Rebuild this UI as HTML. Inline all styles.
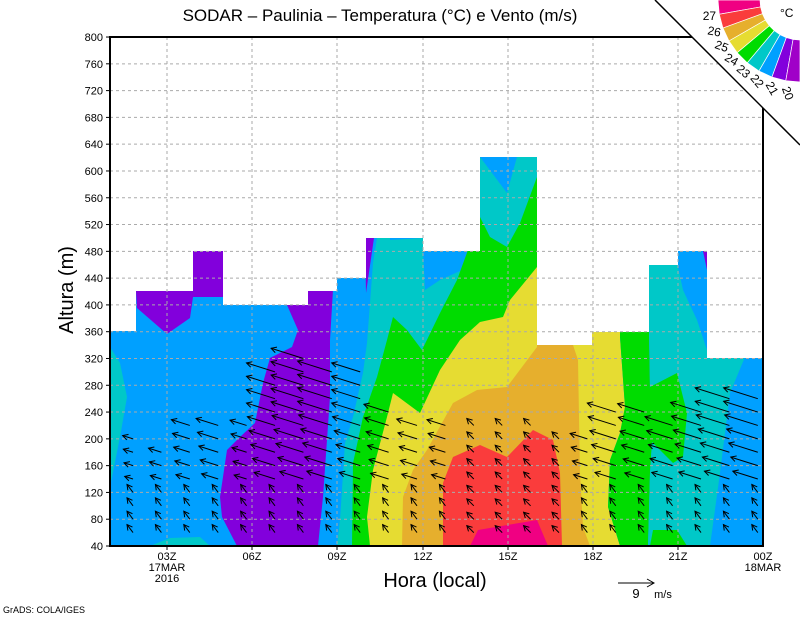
<!DOCTYPE html>
<html><head><meta charset="utf-8"><style>
body{margin:0;background:#fff;}
svg{display:block;font-family:"Liberation Sans",sans-serif;}
</style></head><body>
<svg id="s" width="800" height="618" viewBox="0 0 800 618" xmlns="http://www.w3.org/2000/svg">
<defs>
<clipPath id="dc"><polygon points="110,546 110,331 136,331 136,291 193,291 193,251 223,251 223,305 308,305 308,291 337,291 337,278 366,278 366,238 423,238 423,251 480,251 480,157 537,157 537,345 592,345 592,332 649,332 649,265 678,265 678,251 707,251 707,358 763,358 763,546"/></clipPath>
</defs>
<g id="fill" clip-path="url(#dc)">
<rect x="110" y="150" width="654" height="400" fill="#00a0ff"/>
</g>
<g id="grid" stroke="#aaa" stroke-width="1" stroke-dasharray="3,3"></g>
<g id="arrows" stroke="#000" fill="none" stroke-width="1"></g>
<rect x="110" y="37" width="653" height="509" fill="none" stroke="#000" stroke-width="2"/>
<polygon points="655,0 800,0 800,145" fill="#fff"/>
<line x1="655" y1="0" x2="800" y2="145" stroke="#000" stroke-width="1.5"/>
<g id="leg"></g>
<text x="780" y="17" font-size="12">°C</text>
<text x="380" y="21" font-size="17" text-anchor="middle">SODAR – Paulinia – Temperatura (°C) e Vento (m/s)</text>
<g id="yl" font-size="11" text-anchor="end"></g>
<g id="xl" font-size="11" text-anchor="middle">
<text x="167" y="560">03Z</text><text x="167" y="571">17MAR</text><text x="167" y="582">2016</text>
<text x="252" y="560">06Z</text><text x="337" y="560">09Z</text><text x="423" y="560">12Z</text>
<text x="508" y="560">15Z</text><text x="593" y="560">18Z</text><text x="678" y="560">21Z</text>
<text x="763" y="560">00Z</text><text x="763" y="571">18MAR</text>
</g>
<text x="435" y="587" font-size="20" text-anchor="middle">Hora (local)</text>
<text transform="translate(73,290) rotate(-90)" font-size="20" text-anchor="middle">Altura (m)</text>
<line x1="618" y1="583" x2="654" y2="583" stroke="#000"/><polyline points="647,579 654,583 647,587" fill="none" stroke="#000"/>
<text x="636" y="598" font-size="13" text-anchor="middle">9</text><text x="663" y="598" font-size="11" text-anchor="middle">m/s</text>
<text x="3" y="613" font-size="9">GrADS: COLA/IGES</text>
</svg>
<script>
var NS="http://www.w3.org/2000/svg";
function el(p,t,a,txt){var e=document.createElementNS(NS,t);for(var k in a)e.setAttribute(k,a[k]);if(txt)e.textContent=txt;document.getElementById(p).appendChild(e);return e;}
function Y(m){return 546-(m-40)*0.6697;}
var polys=[
["#8200dc","136,291 193,291 193,297 190,318 167,334 137,308"],
["#8200dc","193,251 223,251 223,297 193,297"],
["#8200dc","287,305 308,305 308,291 337,291 333,290 330,340 330,397 323,497 318,546 237,546 222,517 220,497 227,450 240,437 255,423 263,383 270,358 292,347 298,330"],
["#8200dc","365,238 374,238 366,293"],
["#00c8c8","110,347 120,363 127,397 120,437 108,497"],
["#00c8c8","150,546 170,538 200,537 210,546"],
["#00c8c8","337,546 340,520 345,443 353,417 363,373 367,343 373,263 377,238 390,238 390,240 423,238 423,251 480,251 480,157 537,157 537,546"],
["#00a0ff","423,251 480,251 480,262 440,280 425,290"],
["#00a0ff","480,157 517,157 507,193"],
["#00dc00","352,546 353,463 363,417 377,377 387,340 393,317 407,330 422,350 440,313 457,280 468,250 480,217 490,237 507,247 520,223 537,177 537,546"],
["#e6dc32","370,546 367,517 373,470 387,417 393,393 420,413 440,370 460,340 480,322 503,317 510,300 537,267 537,345 592,345 592,332 620,332 620,337 625,407 620,433 610,460 608,507 620,546"],
["#e6af2d","402,546 403,497 413,470 427,450 453,403 477,390 507,387 537,347 537,345 573,345 578,360 580,473 583,527 590,546"],
["#fa3c3c","443,546 443,483 453,457 480,445 507,457 533,430 553,440 560,473 562,546"],
["#f00082","470,546 478,530 537,520 548,546"],
["#00dc00","620,332 649,332 650,390 653,427 650,473 648,546 620,546 608,507 610,460 620,433 625,407 620,337"],
["#00c8c8","649,546 648,546 650,473 653,427 650,390 649,332 649,265 678,265 678,267 683,290 697,320 707,350 743,357 763,357 763,546"],
["#00dc00","650,387 677,373 687,413 683,457 673,463 650,440"],
["#00dc00","653,530 677,530 687,546 650,546"],
["#00a0ff","745,357 763,357 763,546 710,546 720,473 730,393"],
["#8200dc","703,251 707,251 707,270"]
];
polys.forEach(function(p){el("fill","polygon",{points:p[1],fill:p[0]});});
for(var m=80;m<=760;m+=40){el("grid","line",{x1:110,x2:763,y1:Y(m),y2:Y(m)});}
[167,252,337,423,508,593,678].forEach(function(x){el("grid","line",{x1:x,x2:x,y1:37,y2:546});});
for(var m=40;m<=800;m+=40){el("yl","text",{x:103,y:Y(m)+4},""+m);el("yl","line",{x1:106,x2:110,y1:Y(m),y2:Y(m),stroke:"#000"});}
[167,252,337,423,508,593,678].forEach(function(x){el("xl","line",{x1:x,x2:x,y1:546,y2:550,stroke:"#000"});});
var tops=[200,180,220,220,220,300,320,300,300,240,220,220,220,220,220,200,200,250,240,220,250,260,270];
var Ls=[12,16,20,24,18,30,34,36,30,26,22,20,14,10,10,12,20,30,28,30,32,36,36];
for(var i=0;i<23;i++){
 var x=133+i*28.4; if(x>760)break;
 for(var m=60;m<=tops[i];m+=20){
  var y=Y(m),L,dx,dy;
  if(m<130){L=10;dx=-0.6;dy=-0.8;}else{L=Ls[i]*(0.7+0.3*Math.min(1,(m-130)/100));dx=-0.95;dy=-0.3;}
  if(i>=12&&i<=15){L=10;dx=-0.7;dy=-0.7;}
  var x2=x+dx*L,y2=y+dy*L;
  el("arrows","line",{x1:x,y1:y,x2:x2,y2:y2});
  var a=Math.atan2(dy,dx),h=6;
  el("arrows","polyline",{points:(x2-h*Math.cos(a-0.5))+","+(y2-h*Math.sin(a-0.5))+" "+x2+","+y2+" "+(x2-h*Math.cos(a+0.5))+","+(y2-h*Math.sin(a+0.5))});
 }
}
var lc=["#f00082","#fa3c3c","#e6af2d","#e6dc32","#00dc00","#00c8c8","#00a0ff","#8200dc","#a000c8"];
var labs=["27","26","25","24","23","22","21","20"];
function pt(r,t){t=t*Math.PI/180;return (800-r*Math.cos(t))+","+(r*Math.sin(t));}
for(var k=0;k<9;k++){
 var t0=k*10,t1=(k+1)*10;
 el("leg","polygon",{points:pt(40,t0)+" "+pt(82,t0)+" "+pt(82,t1)+" "+pt(40,t1),fill:lc[k],stroke:"#fff","stroke-width":"0.7"});
 if(k<8){var t=(t1)*Math.PI/180,r=92,lx=800-r*Math.cos(t),ly=r*Math.sin(t)+4;
  el("leg","text",{x:lx,y:ly,"font-size":"12","text-anchor":"middle",transform:"rotate("+(t1-10)+" "+lx+" "+ly+")"},labs[k]);}
}
</script>
</body></html>
